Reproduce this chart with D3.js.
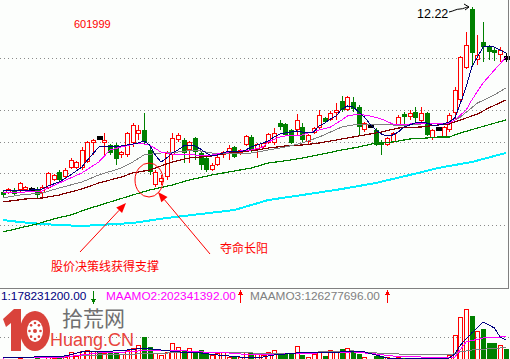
<!DOCTYPE html>
<html><head><meta charset="utf-8">
<script src="https://cdn.jsdelivr.net/npm/d3@7"></script>
<style>html,body{margin:0;padding:0;background:#fcfefc;overflow:hidden}svg{display:block}</style>
</head><body>
<svg id="c" width="510" height="359"></svg>
<script>
// ---------- DATA ----------
const stockCode = "601999";
const opens  = [8.52,8.50,8.56,8.56,8.56,8.57,8.56,8.50,8.60,8.76, 8.92,8.82,9.00,9.00,9.00,9.12,9.50,9.60,9.50,9.46, 9.46,9.26,9.26,9.50,9.68,9.76,9.36,8.66,8.72,8.82,
                9.26,9.56,9.56,9.36,9.60,9.30,9.20,8.96,9.06,9.26, 9.30,9.42,9.30,9.46,9.62,9.36,9.42,9.50,9.50,9.90, 9.88,9.76,9.76,9.82,9.52,9.70,9.80,10.00,9.96,10.10,
                10.34,10.16,10.32,10.22,9.76,9.84,9.76,9.52,9.46,9.52, 9.86,10.08,10.02,10.12,9.94,10.10,9.60,9.78,9.62,9.76, 10.10,10.36,11.00,12.18,11.16,11.52,11.42,11.36,11.26,11.20];
const highs  = [8.56,8.60,8.60,8.72,8.64,8.62,8.62,8.66,8.92,8.88, 8.96,9.00,9.20,9.14,9.42,9.54,9.58,9.64,9.70,9.48, 9.50,9.34,9.72,9.90,9.86,10.10,9.40,8.96,8.86,9.34,
                9.70,9.70,9.60,9.54,9.62,9.32,9.26,9.10,9.24,9.34, 9.46,9.44,9.38,9.66,9.66,9.50,9.52,9.70,9.80,9.96, 9.90,9.78,10.08,9.90,9.68,9.82,10.16,10.02,10.14,10.30,
                10.44,10.44,10.42,10.26,9.92,9.88,9.80,9.56,9.62,9.72, 10.06,10.12,10.16,10.22,10.22,10.12,9.78,9.82,9.84,10.10, 10.62,11.24,11.72,12.22,11.66,11.92,11.46,11.40,11.42,11.30];
const lows   = [8.42,8.48,8.44,8.52,8.54,8.52,8.40,8.42,8.58,8.74, 8.72,8.80,8.98,8.98,8.96,9.10,9.26,9.56,9.22,9.26, 9.06,9.20,9.22,9.42,9.56,9.46,8.86,8.62,8.66,8.76,
                9.16,9.52,9.10,9.10,9.16,8.96,8.92,8.94,9.04,9.20, 9.16,9.20,9.26,9.44,9.30,9.20,9.40,9.48,9.46,9.76, 9.64,9.48,9.66,9.52,9.46,9.68,9.76,9.90,9.94,9.96,
                10.12,10.14,10.12,9.66,9.72,9.80,9.44,9.26,9.44,9.50, 9.84,9.86,9.96,9.92,9.92,9.64,9.56,9.74,9.60,9.72, 9.96,10.34,10.98,11.06,11.06,11.12,11.16,11.14,11.12,11.12];
const closes = [8.46,8.58,8.48,8.70,8.62,8.57,8.46,8.62,8.90,8.86, 8.76,8.96,9.16,9.12,9.36,9.52,9.56,9.60,9.56,9.30, 9.18,9.32,9.70,9.86,9.76,9.52,8.92,8.92,8.80,9.30,
                9.60,9.66,9.30,9.52,9.32,9.06,8.96,9.06,9.22,9.32, 9.40,9.22,9.36,9.64,9.36,9.48,9.50,9.68,9.70,9.82, 9.66,9.50,9.96,9.56,9.66,9.80,10.06,9.92,10.10,10.16,
                10.16,10.42,10.18,9.82,9.90,9.84,9.46,9.46,9.60,9.70, 10.02,10.02,10.10,10.00,10.10,9.66,9.76,9.78,9.82,10.06, 10.56,11.22,11.46,11.30,11.26,11.42,11.32,11.30,11.36,11.20];
// trading amount, millions
const amounts = [50,45,48,55,40,38,52,45,70,55, 69,60,97,70,104,110,104,97,90,97, 90,83,110,124,145,200,131,90,76,97,
                 159,131,110,124,97,110,97,76,90,97, 62,69,60,97,90,83,76,97,110,90, 90,83,138,76,62,83,97,70,110,104,
                 117,124,97,83,62,50,69,69,60,55, 62,55,48,45,55,62,48,40,45,76, 214,338,393,345,240,255,159,159,145,117];
// moving averages: [bar index, price]
const ma5  = [[0,8.56],[3,8.54],[7,8.58],[8,8.64],[10,8.72],[12,8.86],[14,9.02],[15,9.16],[17,9.42],[19,9.44],[21,9.44],[24,9.50],[25,9.54],[26,9.46],[27,9.26],[28,9.12],[29,9.20],
  [30,9.30],[31,9.36],[32,9.44],[33,9.46],[34,9.44],[35,9.38],[36,9.30],[37,9.24],[38,9.26],[39,9.30],[40,9.34],[42,9.32],[43,9.36],[44,9.42],[45,9.46],[47,9.54],[48,9.62],[49,9.68],
  [50,9.70],[51,9.72],[52,9.74],[53,9.72],[54,9.70],[55,9.72],[56,9.84],[57,9.90],[58,9.98],[59,10.04],[60,10.18],[61,10.24],[62,10.22],[63,10.12],[64,10.02],[65,9.88],[66,9.76],
  [67,9.68],[68,9.64],[69,9.66],[70,9.72],[71,9.82],[72,9.86],[73,9.90],[74,9.92],[75,9.90],[76,9.86],[77,9.86],[78,9.88],[79,9.92],[80,10.00],[81,10.30],[82,10.62],[83,11.02],
  [84,11.22],[85,11.42],[86,11.44],[87,11.42],[88,11.36],[89,11.30]];
const ma10 = [[0,8.52],[4,8.52],[7,8.54],[8,8.60],[10,8.70],[12,8.80],[14,8.90],[17,9.12],[19,9.36],[21,9.42],[24,9.50],[26,9.46],[28,9.32],[30,9.28],[32,9.28],[34,9.26],[37,9.26],
  [40,9.32],[44,9.36],[46,9.42],[47,9.52],[49,9.62],[51,9.66],[53,9.66],[54,9.70],[56,9.76],[58,9.82],[60,9.96],[61,10.04],[63,10.08],[65,10.04],[67,9.98],[69,9.88],[70,9.86],
  [72,9.88],[74,9.90],[76,9.90],[77,9.88],[79,9.90],[80,9.96],[82,10.16],[83,10.36],[85,10.70],[87,10.96],[88,11.08],[89,11.22]];
const ma20 = [[0,8.40],[3,8.46],[7,8.50],[10,8.60],[14,8.72],[17,8.86],[21,9.00],[23,9.12],[25,9.26],[28,9.30],[31,9.32],[34,9.36],[37,9.30],[40,9.30],[44,9.30],[47,9.36],
  [50,9.42],[53,9.50],[56,9.62],[60,9.82],[63,9.88],[66,9.88],[69,9.86],[72,9.86],[74,9.88],[77,9.90],[79,9.90],[81,10.02],[84,10.30],[87,10.46],[89,10.60]];
const ma30 = [[0,8.32],[4,8.38],[7,8.40],[10,8.46],[14,8.58],[17,8.70],[21,8.82],[23,8.90],[26,8.96],[30,9.12],[33,9.20],[37,9.24],[40,9.30],[45,9.36],[47,9.40],[50,9.44],
  [53,9.46],[56,9.50],[60,9.58],[63,9.64],[67,9.72],[70,9.80],[74,9.82],[77,9.86],[79,9.88],[82,10.00],[84,10.08],[86,10.20],[89,10.36]];
const ma60 = [[0,7.72],[3,7.80],[6,7.88],[9,7.98],[12,8.06],[15,8.18],[19,8.32],[23,8.46],[26,8.56],[30,8.66],[33,8.76],[37,8.86],[40,8.92],[44,9.00],[47,9.10],[51,9.16],
  [54,9.22],[60,9.36],[63,9.42],[66,9.50],[69,9.52],[72,9.58],[75,9.60],[77,9.62],[79,9.62],[81,9.70],[84,9.80],[89,9.96]];
const ma250 = [[0,7.96],[3,7.92],[7,7.88],[10,7.86],[14,7.84],[17,7.86],[23,7.90],[29,8.00],[35,8.08],[41,8.16],[47,8.36],[53,8.46],[60,8.58],[66,8.70],[72,8.86],[77,9.00],[83,9.12],[89,9.30]];
const amo5  = [[0,55],[11,69],[14,97],[17,97],[22,110],[25,124],[28,110],[31,97],[35,90],[38,76],[42,62],[45,55],[48,76],[52,90],[56,90],[60,97],[64,97],[66,76],[68,55],[71,48],
  [75,55],[79,55],[80,83],[81,145],[83,228],[85,304],[87,262],[88,200],[89,178.2312]];
const amo10 = [[0,55],[11,62],[17,90],[22,97],[26,110],[30,110],[35,97],[40,90],[44,76],[50,83],[56,90],[62,97],[66,83],[69,69],[74,62],[79,55],[80,62],[82,166],[85,193],
  [88,200],[89,202.341392]];
const amo20 = [[0,62],[8,62],[17,76],[24,83],[35,97],[44,90],[50,83],[56,97],[62,104],[66,90],[74,76],[79,76],[81,97],[83,110],[88,124],[89,126.277696]];
const gridPrices = [11.19, 10.15, 9.51, 8.89, 7.85];
const gridAmounts = [200];
const note1 = "股价决策线获得支撑";
const note2 = "夺命长阳";

// ---------- SCALES ----------
const svg = d3.select('#c').attr('shape-rendering','crispEdges');
const BG = '#fcfefc';
svg.append('rect').attr('width',510).attr('height',359).attr('fill',BG);
const n = opens.length;
const x = d3.scaleLinear().domain([0, n-1]).range([2.7, 505.7]);
const y = d3.scaleLinear().domain([12.36, 7.36]).range([0, 250]);
const yv = d3.scaleLinear().domain([0, 200]).range([366, 337]);
const px = i => Math.round(x(i));

// ---------- GRID ----------
const grid = svg.append('g').attr('stroke','#8a8a8a').attr('stroke-dasharray','1,3');
gridPrices.forEach(p => { const yy = Math.floor(y(p))+0.5;
  grid.append('line').attr('x1',0).attr('x2',509).attr('y1',yy).attr('y2',yy); });
gridAmounts.forEach(a => { const yy = Math.floor(yv(a))+0.5;
  grid.append('line').attr('x1',0).attr('x2',509).attr('y1',yy).attr('y2',yy); });

// ---------- CANDLES ----------
const cg = svg.append('g');
for (let i=0;i<n;i++){
  const o=opens[i], c=closes[i], h=highs[i], l=lows[i];
  const cx = px(i);
  const yh = Math.round(y(h)), yl = Math.round(y(l));
  if (o===c){
    const yc = Math.round(y(c));
    cg.append('line').attr('x1',cx+0.5).attr('x2',cx+0.5).attr('y1',yh).attr('y2',yl).attr('stroke','#000');
    cg.append('rect').attr('x',cx-2).attr('y',yc-2).attr('width',6).attr('height',4).attr('fill','#000');
    continue;
  }
  const up = c>o;
  const top = Math.round(y(Math.max(o,c))), bot = Math.round(y(Math.min(o,c)));
  if (up){
    cg.append('line').attr('x1',cx+0.5).attr('x2',cx+0.5).attr('y1',yh).attr('y2',top).attr('stroke','#ff0000');
    cg.append('line').attr('x1',cx+0.5).attr('x2',cx+0.5).attr('y1',bot).attr('y2',yl).attr('stroke','#ff0000');
    cg.append('rect').attr('x',cx-1.5).attr('y',top+0.5).attr('width',4).attr('height',Math.max(1,bot-top-1))
      .attr('fill',BG).attr('stroke','#ff0000');
  } else {
    cg.append('line').attr('x1',cx+0.5).attr('x2',cx+0.5).attr('y1',yh).attr('y2',yl).attr('stroke','#008000');
    cg.append('rect').attr('x',cx-2).attr('y',top).attr('width',5).attr('height',Math.max(1,bot-top)).attr('fill','#008000');
  }
}

// ---------- MOVING AVERAGES ----------
const line = d3.line().x(d=>x(d[0])).y(d=>y(d[1]));
[[ma250,'#00f0ff',2],[ma60,'#008000',1.2],[ma30,'#800000',1.2],[ma20,'#808080',1],[ma10,'#ff00ff',1],[ma5,'#000080',1]]
  .forEach(([d,col,w]) => svg.append('path').attr('d',line(d)).attr('fill','none').attr('stroke',col).attr('stroke-width',w));

// ---------- PANEL FRAME ----------
svg.append('line').attr('x1',0).attr('x2',509).attr('y1',288.5).attr('y2',288.5).attr('stroke','#808080');
svg.append('line').attr('x1',508.5).attr('x2',508.5).attr('y1',0).attr('y2',288).attr('stroke','#808080');

// ---------- VOLUME ----------
const vg = svg.append('g');
for (let i=0;i<n;i++){
  const cx = px(i), top = Math.round(yv(amounts[i]));
  if (closes[i] > opens[i]) {
    vg.append('rect').attr('x',cx-1.5).attr('y',top+0.5).attr('width',4).attr('height',366-top)
      .attr('fill','none').attr('stroke','#ff0000');
  } else {
    vg.append('rect').attr('x',cx-2).attr('y',top).attr('width',5).attr('height',366-top).attr('fill','#008000');
  }
}
const vline = d3.line().x(d=>x(d[0])).y(d=>yv(d[1]));
[[amo20,'#808080'],[amo10,'#ff00ff'],[amo5,'#000080']]
  .forEach(([d,col]) => svg.append('path').attr('d',vline(d)).attr('fill','none').attr('stroke',col));

// labels (the first one is cut by the left edge in the original, only "1:..." shows)
const fmt = v => (v*1e6).toFixed(2);
const lab = svg.append('g').attr('font-family','Liberation Sans, Arial, sans-serif').attr('font-size','11.8px').attr('shape-rendering','auto');
lab.append('text').attr('x',1).attr('y',300).attr('fill','#000080').text('1:'+fmt(amo5[amo5.length-1][1]));
lab.append('text').attr('x',106).attr('y',300).attr('fill','#ff00ff').text('MAAMO2:'+fmt(amo10[amo10.length-1][1]));
lab.append('text').attr('x',250).attr('y',300).attr('fill','#808080').text('MAAMO3:'+fmt(amo20[amo20.length-1][1]));
function varrow(xx, up, col){
  const g = svg.append('g').attr('stroke',col).attr('fill',col);
  g.append('line').attr('x1',xx+0.5).attr('x2',xx+0.5).attr('y1',291).attr('y2',303);
  if (up) g.append('path').attr('d',`M${xx-2},${295}L${xx+0.5},${290}L${xx+3},${295}Z`).attr('stroke','none');
  else g.append('path').attr('d',`M${xx-2},${299}L${xx+0.5},${304}L${xx+3},${299}Z`).attr('stroke','none');
}
varrow(93,false,'#008000'); varrow(240,true,'#ff0000'); varrow(387,true,'#ff0000');

// ---------- ANNOTATIONS ----------
const ann = svg.append('g').attr('shape-rendering','auto');
ann.append('text').attr('x',74).attr('y',28).attr('fill','#ff0000').attr('font-family','Liberation Sans, Arial, sans-serif')
  .attr('font-size','11px').text(stockCode);
const hiIdx = d3.maxIndex(highs);
ann.append('text').attr('x',417).attr('y',18).attr('fill','#000').attr('font-family','Liberation Sans, Arial, sans-serif')
  .attr('font-size','12.5px').text(d3.max(highs).toFixed(2));
const hx = px(hiIdx)-3, hy = y(highs[hiIdx]);
ann.append('path').attr('d',`M449,12 C454,11 456,9 460,9 S465,7 ${hx},${hy}`).attr('fill','none').attr('stroke','#000');
ann.append('path').attr('d',`M${hx-5},${hy-3} L${hx},${hy} L${hx-4},${hy+3}`).attr('fill','none').attr('stroke','#000');
// circle around the support candles
ann.append('ellipse').attr('cx',149).attr('cy',180).attr('rx',14).attr('ry',17).attr('fill','none').attr('stroke','#ff0000');
function arrow(x1,y1,x2,y2){
  const a = Math.atan2(y2-y1,x2-x1), L=10, W=4;
  const bx = x2 - L*Math.cos(a), by = y2 - L*Math.sin(a);
  ann.append('line').attr('x1',x1).attr('y1',y1).attr('x2',bx).attr('y2',by).attr('stroke','#ff0000');
  ann.append('path').attr('d',`M${x2},${y2}L${bx+W*Math.sin(a)},${by-W*Math.cos(a)}L${bx-W*Math.sin(a)},${by+W*Math.cos(a)}Z`).attr('fill','#ff0000');
}
arrow(80,252,126,203);
arrow(210,254,158,192);
const cjk = 'Noto Sans CJK SC, sans-serif';
ann.append('text').attr('x',51).attr('y',271).attr('fill','#ff0000').attr('font-family',cjk).attr('font-size','12px').text(note1);
ann.append('text').attr('x',220).attr('y',253).attr('fill','#ff0000').attr('font-family',cjk).attr('font-size','12px').text(note2);

// ---------- WATERMARK ----------
const wm = svg.append('g').attr('shape-rendering','auto');
wm.append('path').attr('d','M3,319 L14,309 L21,309 L21,351 L11,351 L11,323 L6,327 Z').attr('fill','#d9433b');
wm.append('ellipse').attr('cx',35).attr('cy',331).attr('rx',15).attr('ry',20).attr('fill','#d9433b');
wm.append('ellipse').attr('cx',35).attr('cy',331).attr('rx',8).attr('ry',11).attr('fill','#fff');
d3.range(8).forEach(k => { const a = k*Math.PI/4;
  wm.append('circle').attr('cx',35+5.5*Math.cos(a)).attr('cy',331+8*Math.sin(a)).attr('r',1.3).attr('fill','#d9433b'); });
wm.append('circle').attr('cx',35).attr('cy',331).attr('r',2).attr('fill','#d9433b');
wm.append('text').attr('x',62).attr('y',326).attr('fill','#707070').attr('font-family',cjk).attr('font-size','21px').text('拾荒网');
wm.append('text').attr('x',50).attr('y',346).attr('fill','#e8453c').attr('font-family','Liberation Sans, Arial, sans-serif').attr('font-size','18px').text('Huang.CN');
</script>
</body></html>
